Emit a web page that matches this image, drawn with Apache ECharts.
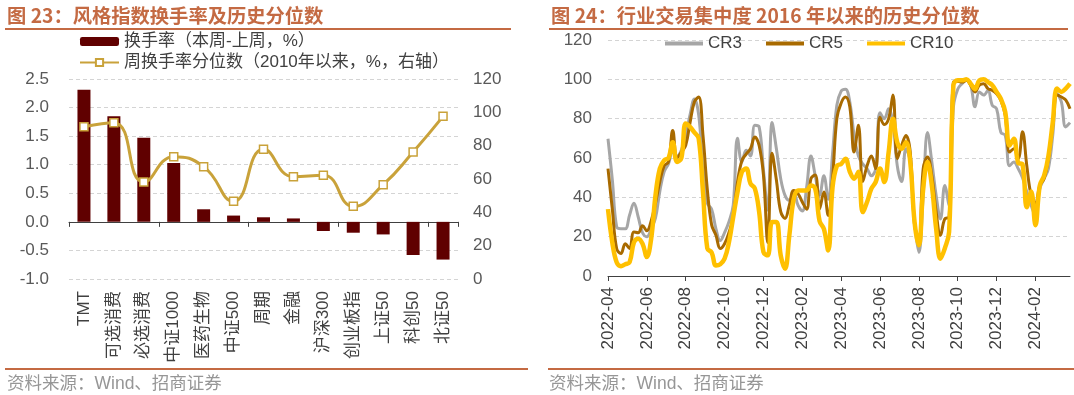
<!DOCTYPE html>
<html><head><meta charset="utf-8">
<script src="https://cdn.jsdelivr.net/npm/echarts@6/dist/echarts.min.js"></script>
<style>html,body{margin:0;padding:0;background:#fff}#c{width:1074px;height:395px}</style>
</head><body><div id="c"></div>
<script>
// ---------- Left chart data ----------
const styleCategories = ['TMT','可选消费','必选消费','中证1000','医药生物','中证500','周期','金融','沪深300','创业板指','上证50','科创50','北证50'];
const turnoverChange = [2.31,1.85,1.47,1.03,0.22,0.11,0.08,0.06,-0.16,-0.19,-0.22,-0.58,-0.66];
const turnoverPercentile = [91.4,93.8,58.2,73.4,67.4,46.6,77.8,61.4,62.2,43.6,56.6,76.2,97.6];
const leftSeriesNames = ['换手率（本周-上周，%）','周换手率分位数（2010年以来，%，右轴）'];

// ---------- Right chart data (weekly, from 2022-04-01) ----------
const weekCount = 108;
const weekDates = [];
for (let k = 0; k < weekCount; k++) {
  const d = new Date(Date.UTC(2022, 3, 1 + 7 * k));
  weekDates.push(d.toISOString().slice(0, 10));
}
const cr3 = [69.8,49,25,24,24,31,37,30,22,20,24,29.5,43,53,57,63,61,64,71.5,82,90,82,54.5,37,34,24,18,22,27.5,36,70,58,64,61,76.6,75.8,54,33.5,78,64.7,49.5,41,38.5,42.7,36,33,45,61,51,41,51,39,62,86.8,94,95,88.5,71.5,61,57,54.6,51,54.6,83,80,85,78,56,48,64.7,58,27.5,12,41,73,58,41,29,46,35.6,86,95,97.8,99.5,97,86,93.6,92,94.4,86.8,85,73,71.5,56,58,54.6,50,42.7,35.9,30.8,44.4,49.5,54.6,71.5,92.7,88.5,75.8,78];
const cr5 = [54.6,34,14,11.4,16.4,14,22.4,22,25.5,23,28,37,48,56,58,74,60,63,66.4,78,88.5,91,71.5,44,26,20.7,14,16.4,22,30,47.8,58.6,62,64.7,70.7,66.4,51.4,17,62.4,48.8,32.7,29.3,36,43.5,41.9,37.6,34,49.5,51.4,34,42.7,30.8,49.5,80,88,91,86,63,76.6,48,56,61,54.6,80.7,77,80,92,59.6,66.4,71.5,63,25.8,19,54.6,60.5,51,32.5,20.7,29,30,98.6,99,98.6,99.5,97,93.6,97,97.8,95.3,94.4,92.7,89.3,81.7,63,64.7,59.6,73.4,56,41,37,46,49.5,59.6,76.6,92,91,89.5,85];
const cr10 = [34,17,7,5,6,7,17,19,16.4,9.7,19,41,54.6,58.8,60,68,58,60,77.5,75.8,73,70,42.7,14,12,5.4,6,8.8,17,30,42.7,52.9,54.6,47,44.6,32.7,12.2,10.5,27.5,27.5,10.5,3.7,20.7,39,43.5,43.5,43.5,46,44.4,28,24,13,45,56,57,59.6,53,49.5,53,32.5,37.6,44.4,47.8,54.6,47.8,63,80,68,64.7,68,58,27.5,15.6,44.4,58,46,24,8.8,14,22.4,97,99.5,99.5,100,97.8,95,99.5,100,98.6,97,93.6,90,83.4,66.4,69.8,57.6,56.8,35,43,25.8,46,51,61,78,95.3,93.6,95.3,97.8];
const rightSeriesNames = ['CR3','CR5','CR10'];

// ---------- Text ----------
const titleLeft = '图 23：风格指数换手率及历史分位数';
const titleRight = '图 24：行业交易集中度 2016 年以来的历史分位数';
const sourceText = '资料来源：Wind、招商证券';

const FONT = "'Liberation Sans', 'Noto Sans CJK SC', sans-serif";
const CJK_BOLD = "'Noto Sans CJK SC', sans-serif";
const ACCENT = '#c46a43';
const LABEL = '#595959';
const DARK = '#404040';
const GRIDC = '#d4d4d4';

const showWeekLabel = (i) => i % 9 === 0 && i <= 99;

const chart = echarts.init(document.getElementById('c'), null, {renderer: 'canvas'});
chart.setOption({
  animation: false,
  backgroundColor: '#fff',
  textStyle: {fontFamily: FONT},
  title: [
    {text: titleLeft, left: 7, top: 6, padding: 0,
     textStyle: {color: ACCENT, fontSize: 19.3, fontWeight: 'bold', fontFamily: CJK_BOLD}},
    {text: titleRight, left: 551, top: 6, padding: 0,
     textStyle: {color: ACCENT, fontSize: 19.3, fontWeight: 'bold', fontFamily: CJK_BOLD}},
    {text: sourceText, left: 7, top: 375, padding: 0,
     textStyle: {color: '#969696', fontSize: 17.5, fontWeight: 'normal', fontFamily: FONT}},
    {text: sourceText, left: 549, top: 375, padding: 0,
     textStyle: {color: '#969696', fontSize: 17.5, fontWeight: 'normal', fontFamily: FONT}}
  ],
  graphic: [
    {type: 'line', shape: {x1: 5, y1: 29, x2: 511, y2: 29}, style: {stroke: ACCENT, lineWidth: 2}},
    {type: 'line', shape: {x1: 549, y1: 29, x2: 1068, y2: 29}, style: {stroke: ACCENT, lineWidth: 2}},
    {type: 'line', shape: {x1: 5, y1: 369, x2: 528, y2: 369}, style: {stroke: ACCENT, lineWidth: 2}},
    {type: 'line', shape: {x1: 548, y1: 369, x2: 1074, y2: 369}, style: {stroke: ACCENT, lineWidth: 2}}
  ],
  legend: [
    {orient: 'vertical', left: 79, top: 33, itemWidth: 39, itemHeight: 9, itemGap: 4, padding: 0,
     data: leftSeriesNames, textStyle: {fontSize: 17, color: DARK, fontFamily: FONT}},
    {orient: 'horizontal', left: 665, top: 35, itemWidth: 38, itemHeight: 4, itemGap: 24, padding: 0,
     icon: 'rect',
     data: rightSeriesNames, textStyle: {fontSize: 17, color: DARK, fontFamily: FONT}}
  ],
  grid: [
    {left: 69, right: 616, top: 79, bottom: 116},
    {left: 608, right: 4, top: 40, bottom: 119}
  ],
  xAxis: [
    {type: 'category', gridIndex: 0, data: styleCategories, boundaryGap: true,
     axisLine: {onZero: true, onZeroAxisIndex: 0, lineStyle: {color: DARK, width: 1}},
     axisTick: {show: true, length: 5, lineStyle: {color: DARK}},
     axisLabel: {show: false}},
    {type: 'category', gridIndex: 0, data: styleCategories, position: 'bottom', boundaryGap: true,
     axisLine: {show: false, onZero: false}, axisTick: {show: false},
     axisLabel: {rotate: 90, margin: 12, fontSize: 17, color: DARK, fontFamily: FONT}},
    {type: 'category', gridIndex: 1, data: weekDates, boundaryGap: false,
     axisLine: {lineStyle: {color: DARK, width: 1}},
     axisTick: {show: true, length: 5, interval: showWeekLabel, lineStyle: {color: DARK}},
     axisLabel: {rotate: 90, margin: 11, fontSize: 17, color: DARK, fontFamily: FONT,
                 interval: showWeekLabel, formatter: (v) => v.slice(0, 7)}}
  ],
  yAxis: [
    {type: 'value', gridIndex: 0, min: -1, max: 2.5, interval: 0.5,
     axisLine: {show: false}, axisTick: {show: false},
     axisLabel: {fontSize: 17, color: LABEL, margin: 20, formatter: (v) => v.toFixed(1)},
     splitLine: {lineStyle: {color: GRIDC, type: [4, 3]}}},
    {type: 'value', gridIndex: 0, min: 0, max: 120, interval: 20, position: 'right',
     axisLine: {show: false}, axisTick: {show: false},
     axisLabel: {fontSize: 17, color: LABEL, margin: 15},
     splitLine: {show: false}},
    {type: 'value', gridIndex: 1, min: 0, max: 120, interval: 20,
     axisLine: {show: false}, axisTick: {show: false},
     axisLabel: {fontSize: 17, color: LABEL, margin: 16},
     splitLine: {lineStyle: {color: GRIDC, type: [4, 3]}}}
  ],
  series: [
    {name: leftSeriesNames[0], type: 'bar', xAxisIndex: 0, yAxisIndex: 0, data: turnoverChange,
     barWidth: 13, itemStyle: {color: '#600000'}},
    {name: leftSeriesNames[1], type: 'line', xAxisIndex: 0, yAxisIndex: 1, data: turnoverPercentile,
     smooth: true, symbol: 'rect', symbolSize: 8, showAllSymbol: true,
     lineStyle: {color: '#c9a23a', width: 3},
     itemStyle: {color: '#ffffff', borderColor: '#c9a23a', borderWidth: 1.5}},
    {name: 'CR3', type: 'line', xAxisIndex: 2, yAxisIndex: 2, data: cr3, smooth: 0.4,
     symbol: 'none', lineStyle: {color: '#a6a6a6', width: 3}, itemStyle: {color: '#a6a6a6'}, z: 2},
    {name: 'CR5', type: 'line', xAxisIndex: 2, yAxisIndex: 2, data: cr5, smooth: 0.4,
     symbol: 'none', lineStyle: {color: '#a86a00', width: 3}, itemStyle: {color: '#a86a00'}, z: 3},
    {name: 'CR10', type: 'line', xAxisIndex: 2, yAxisIndex: 2, data: cr10, smooth: 0.4,
     symbol: 'none', lineStyle: {color: '#ffc000', width: 4.5}, itemStyle: {color: '#ffc000'}, z: 4}
  ]
});
</script>
</body></html>
